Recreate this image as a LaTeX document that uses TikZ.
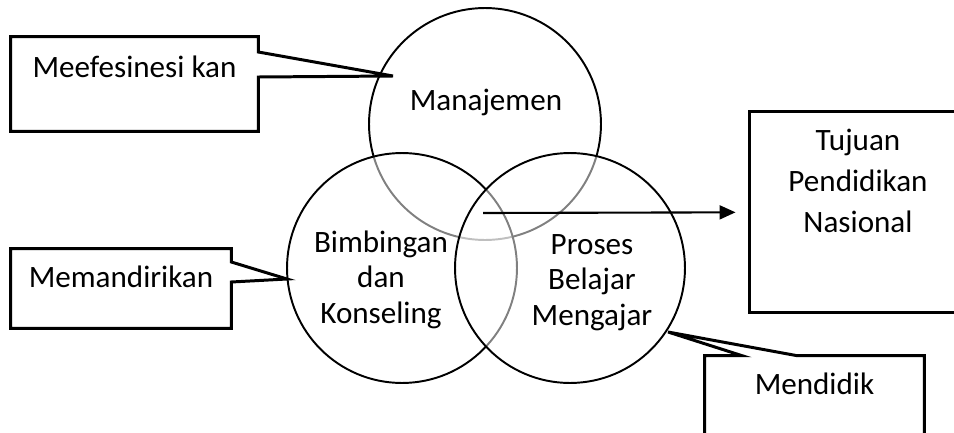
\documentclass[tikz,border=0pt]{standalone}
\usepackage{fontspec}
\setmainfont{Carlito}
\usetikzlibrary{arrows.meta}

\tikzset{
  circ/.style={draw, circle, line width=1.1pt, fill=white, fill opacity=0.5, inner sep=0pt},
  lbl/.style={align=center, anchor=base, inner sep=0pt, font=\fontsize{17.7}{20.2}\selectfont},
  callbox/.style={rectangle, inner sep=0pt},
  callline/.style={line width=1.7pt, line join=miter},
}

\begin{document}
\begin{tikzpicture}[x=0.02cm, y=-0.02cm]
        \clip (0,0) rectangle (954,433);

        % three circles
        \node[circ, minimum size=4.64cm] (mgmt) at (485,124) {};
        \node[circ, minimum size=4.6cm] (bk) at (402,268) {};
        \node[circ, minimum size=4.6cm] (pbm) at (570,268) {};
        \node[lbl] (mgmttext) at (486,110) {Manajemen};
        \node[lbl] (bktext) at (381,323) {Bimbingan\\dan\\Konseling};
        \node[lbl] (pbmtext) at (592,325) {Proses\\Belajar\\Mengajar};

        % callout: Meefesinesi kan
        \node[callbox, minimum width=4.94cm, minimum height=1.88cm] (efisien) at (134.5,84) {};
        \coordinate (efisientip) at (393,76);
        \draw[callline] (efisien.north west) -- (efisien.north east) -- (efisien.east |- 0,52)
            -- (efisientip) -- (efisien.east |- 0,77) -- (efisien.south east) -- (efisien.south west) -- cycle;
        \node[lbl] (efisientext) at (134.5,77) {Meefesinesi kan};

        % callout: Memandirikan
        \node[callbox, minimum width=4.4cm, minimum height=1.58cm] (mandiri) at (121,288.5) {};
        \coordinate (mandiritip) at (287,279);
        \draw[callline] (mandiri.north west) -- (mandiri.north east) -- (mandiri.east |- 0,262)
            -- (mandiritip) -- (mandiri.east |- 0,282) -- (mandiri.south east) -- (mandiri.south west) -- cycle;
        \node[lbl] (manditext) at (121,287) {Memandirikan};

        % callout: Mendidik
        \node[callbox, minimum width=4.38cm, minimum height=2.08cm] (didik) at (814.5,408) {};
        \coordinate (didiktip) at (668,332);
        \draw[callline] (didik.north west) -- (didik.north west -| 742,0) -- (didiktip)
            -- (didik.north west -| 797,0) -- (didik.north east) -- (didik.south east) -- (didik.south west) -- cycle;
        \node[lbl] (didiktext) at (814.5,394) {Mendidik};

        % goal box and arrow
        \node[callbox, draw, line width=1.7pt, minimum width=4.36cm, minimum height=4.04cm] (tujuan) at (858,212) {};
        \node[lbl, font=\fontsize{17.7}{23.2}\selectfont] (tujuantext) at (858,232) {Tujuan\\Pendidikan\\Nasional};
        \coordinate (arrowstart) at (483,213);
        \draw[-{Triangle[length=0.32cm, width=0.28cm]}, line width=1.2pt, shorten >=0.24cm] (arrowstart) -- (tujuan);

\end{tikzpicture}
\end{document}
